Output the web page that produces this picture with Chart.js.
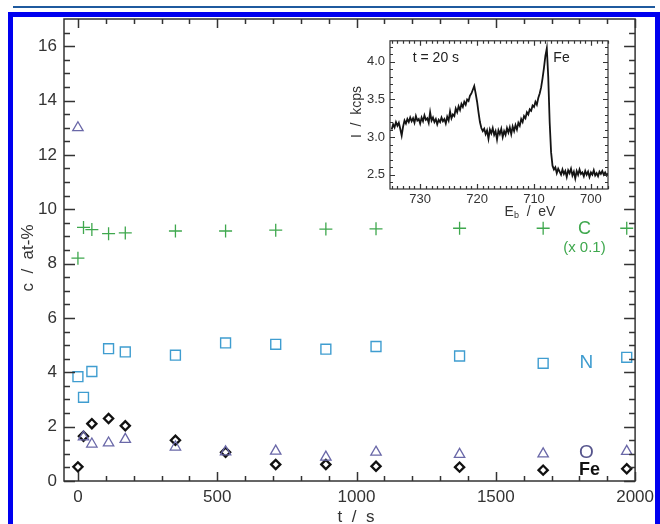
<!DOCTYPE html>
<html>
<head>
<meta charset="utf-8">
<script src="https://cdn.jsdelivr.net/npm/chart.js@4/dist/chart.umd.min.js"></script>
<style>
  html, body { margin: 0; padding: 0; width: 660px; height: 524px; overflow: hidden; background: #fff; }
  #rule  { position: absolute; left: 13px; top: 6px; width: 642px; height: 2px; background: #1f5a9e; }
  #panel { position: absolute; left: 8px; top: 12px; width: 652px; height: 520px; box-sizing: border-box;
           border: 5px solid #0000f0; border-bottom: none; background: #fff; }
  #main  { position: absolute; left: 0; top: 0; }
  #inset { position: absolute; left: 340px; top: 28px; }
</style>
</head>
<body>
<div id="rule"></div>
<div id="panel"></div>
<canvas id="main" width="660" height="524"></canvas>
<canvas id="inset" width="285" height="196"></canvas>
<script>
// Surface composition versus sputter time
const TIMES    = [0, 20, 50, 110, 170, 350, 530, 710, 890, 1070, 1370, 1670, 1970];       // t / s
const CARBON   = [82, 93.3, 92.5, 91, 91.3, 92, 92, 92.3, 92.7, 92.8, 93, 93, 93];         // at-%
const NITROGEN = [3.84, 3.08, 4.03, 4.87, 4.75, 4.63, 5.08, 5.03, 4.85, 4.95, 4.6, 4.33, 4.55];
const OXYGEN   = [13.0, 1.62, 1.36, 1.40, 1.53, 1.25, 1.07, 1.10, 0.88, 1.06, 0.98, 1.0, 1.09];
const IRON     = [0.52, 1.65, 2.11, 2.30, 2.03, 1.50, 1.06, 0.61, 0.61, 0.54, 0.51, 0.40, 0.45];
const CARBON_FACTOR = 0.1;   // carbon is plotted scaled by 0.1
const X_TICKS = [0, 500, 1000, 1500, 2000];
const Y_TICKS = [0, 2, 4, 6, 8, 10, 12, 14, 16];

// Fe 2p spectrum recorded at t = 20 s
const ENERGY = [735,734.75,734.5,734.25,734,733.75,733.5,733.25,733,732.75,732.5,732.25,732,731.75,731.5,731.25,
  731,730.75,730.5,730.25,730,729.75,729.5,729.25,729,728.75,728.5,728.25,728,727.75,727.5,727.25,727,726.75,
  726.5,726.25,726,725.75,725.5,725.25,725,724.75,724.5,724.25,724,723.75,723.5,723.25,723,722.75,722.5,722.25,
  722,721.75,721.5,721.25,721,720.75,720.5,720.25,720,719.75,719.5,719.25,719,718.75,718.5,718.25,718,717.75,
  717.5,717.25,717,716.75,716.5,716.25,716,715.75,715.5,715.25,715,714.75,714.5,714.25,714,713.75,713.5,713.25,
  713,712.75,712.5,712.25,712,711.75,711.5,711.25,711,710.75,710.5,710.25,710,709.75,709.5,709.25,709,708.75,
  708.5,708.25,708,707.75,707.5,707.25,707,706.75,706.5,706.25,706,705.75,705.5,705.25,705,704.75,704.5,704.25,
  704,703.75,703.5,703.25,703,702.75,702.5,702.25,702,701.75,701.5,701.25,701,700.75,700.5,700.25,700,699.75,
  699.5,699.25,699,698.75,698.5,698.25,698,697.75,697.5,697.25,697];
const INTENSITY = [3.10,3.17,3.13,3.20,3.15,3.19,3.11,3.02,3.14,3.22,3.18,3.24,3.20,3.26,3.21,3.25,
  3.19,3.28,3.22,3.24,3.18,3.26,3.21,3.29,3.23,3.25,3.19,3.33,3.22,3.26,3.20,3.24,3.17,3.23,
  3.20,3.26,3.21,3.24,3.18,3.27,3.22,3.34,3.25,3.30,3.28,3.38,3.33,3.41,3.36,3.44,3.40,3.47,
  3.43,3.50,3.48,3.55,3.58,3.63,3.68,3.58,3.47,3.33,3.20,3.12,3.08,3.11,3.04,3.09,2.98,3.10,
  3.05,3.12,3.03,3.08,2.97,3.09,3.04,3.11,3.00,3.08,3.03,3.12,3.06,3.13,3.04,3.14,3.08,3.16,
  3.10,3.19,3.15,3.24,3.20,3.28,3.25,3.33,3.30,3.37,3.35,3.42,3.40,3.47,3.43,3.52,3.58,3.66,
  3.78,3.92,4.08,4.18,3.80,3.20,2.80,2.62,2.57,2.60,2.52,2.58,2.54,2.50,2.57,2.51,2.55,2.47,
  2.56,2.52,2.58,2.49,2.54,2.45,2.55,2.50,2.57,2.51,2.53,2.48,2.55,2.50,2.54,2.47,2.53,2.50,
  2.56,2.49,2.52,2.48,2.54,2.51,2.55,2.50,2.53,2.49,2.52];
const E_TICKS = [730, 720, 710, 700];
const I_TICKS = [2.5, 3.0, 3.5, 4.0];

const FONT = "'Liberation Sans', Arial, Helvetica, sans-serif";
const AXIS = '#333333';
const GREEN = '#3fa84e', BLUE = '#3f9dd0', SLATE = '#6a68a8', BLACK = '#111111';

const pts = (xs, ys, k = 1) => xs.map((x, i) => ({ x, y: ys[i] * k }));

// Inward tick marks on all four sides plus a closed frame
const frameTicks = {
  id: 'frameTicks',
  afterDatasetsDraw(chart, args, o) {
    const { ctx, chartArea: a, scales: { x, y } } = chart;
    ctx.save();
    ctx.strokeStyle = o.color;
    ctx.lineWidth = o.width;
    ctx.beginPath();
    const each = (s, fn) => {
      for (let k = Math.ceil(s.from / s.minor - 1e-9); k * s.minor <= s.to + 1e-9; k++) {
        const v = k * s.minor;
        const r = v / s.major;
        fn(v, Math.abs(r - Math.round(r)) < 1e-6 ? s.majorLen : s.minorLen);
      }
    };
    each(o.x, (v, len) => {
      const px = Math.round(x.getPixelForValue(v)) + 0.5;
      ctx.moveTo(px, a.bottom); ctx.lineTo(px, a.bottom - len);
      ctx.moveTo(px, a.top);    ctx.lineTo(px, a.top + len);
    });
    each(o.y, (v, len) => {
      const py = Math.round(y.getPixelForValue(v)) + 0.5;
      ctx.moveTo(a.left, py);  ctx.lineTo(a.left + len, py);
      ctx.moveTo(a.right, py); ctx.lineTo(a.right - len, py);
    });
    ctx.stroke();
    ctx.strokeRect(a.left, a.top, a.right - a.left, a.bottom - a.top);
    ctx.restore();
  }
};

// Text labels placed in data coordinates or in canvas pixels
const notes = {
  id: 'notes',
  afterDraw(chart, args, o) {
    const { ctx, scales: { x, y } } = chart;
    (o.items || []).forEach(n => {
      const px = n.px !== undefined ? n.px : x.getPixelForValue(n.x);
      const py = n.py !== undefined ? n.py : y.getPixelForValue(n.y);
      ctx.save();
      ctx.translate(px, py);
      if (n.rotate) ctx.rotate(n.rotate);
      ctx.fillStyle = n.color || AXIS;
      ctx.textBaseline = n.baseline || 'middle';
      const parts = n.parts || [{ text: n.text, font: n.font }];
      let total = 0;
      parts.forEach(p => { ctx.font = p.font; total += ctx.measureText(p.text).width; });
      let cx = n.align === 'left' ? 0 : -total / 2;
      parts.forEach(p => {
        ctx.font = p.font;
        ctx.textAlign = 'left';
        ctx.fillText(p.text, cx, p.dy || 0);
        cx += ctx.measureText(p.text).width;
      });
      ctx.restore();
    });
  }
};

const tickFont = size => ({ family: FONT, size, lineHeight: 1.2 });

new Chart(document.getElementById('main'), {
  type: 'scatter',
  data: {
    datasets: [
      { label: 'C', data: pts(TIMES, CARBON, CARBON_FACTOR), pointStyle: 'cross', pointRadius: 6.5,
        borderColor: GREEN, backgroundColor: GREEN, pointBorderWidth: 1.3 },
      { label: 'N', data: pts(TIMES, NITROGEN), pointStyle: 'rect', pointRadius: 7,
        borderColor: BLUE, backgroundColor: 'rgba(0,0,0,0)', pointBorderWidth: 1.4 },
      { label: 'O', data: pts(TIMES, OXYGEN), pointStyle: 'triangle', pointRadius: 6,
        borderColor: SLATE, backgroundColor: 'rgba(0,0,0,0)', pointBorderWidth: 1.3 },
      { label: 'Fe', data: pts(TIMES, IRON), pointStyle: 'rectRot', pointRadius: 4.6,
        borderColor: BLACK, backgroundColor: 'rgba(0,0,0,0)', pointBorderWidth: 2.3 }
    ]
  },
  options: {
    responsive: false,
    animation: false,
    events: [],
    layout: { padding: { top: 19, right: 21, left: 0, bottom: 0 } },
    scales: {
      x: {
        type: 'linear', min: -50, max: 2000,
        afterBuildTicks: s => { s.ticks = X_TICKS.map(value => ({ value })); },
        afterFit: s => { s.height = 43; },
        ticks: { font: tickFont(17), color: AXIS, padding: 6, maxRotation: 0, callback: v => String(v) },
        grid: { display: false, drawTicks: false },
        border: { display: false }
      },
      y: {
        type: 'linear', min: 0, max: 17,
        afterBuildTicks: s => { s.ticks = Y_TICKS.map(value => ({ value })); },
        afterFit: s => { s.width = 64; },
        ticks: { font: tickFont(17), color: AXIS, padding: 7, callback: v => String(v) },
        grid: { display: false, drawTicks: false },
        border: { display: false }
      }
    },
    plugins: {
      legend: { display: false },
      tooltip: { enabled: false },
      frameTicks: {
        color: AXIS, width: 1.5,
        x: { from: 0, to: 2000, minor: 100, major: 500, majorLen: 9, minorLen: 5 },
        y: { from: 0, to: 16.5, minor: 0.5, major: 2, majorLen: 11, minorLen: 6 }
      },
      notes: {
        items: [
          { text: 'C', x: 1818, y: 9.27, font: `18px ${FONT}`, color: GREEN },
          { text: '(x 0.1)', x: 1818, y: 8.57, font: `15px ${FONT}`, color: GREEN },
          { text: 'N', x: 1825, y: 4.35, font: `19px ${FONT}`, color: BLUE },
          { text: 'O', x: 1825, y: 1.05, font: `19px ${FONT}`, color: '#55548c' },
          { text: 'Fe', x: 1836, y: 0.39, font: `bold 18px ${FONT}`, color: BLACK },
          { text: 't  /  s', px: 356, py: 522, baseline: 'alphabetic', font: `17px ${FONT}`, color: AXIS },
          { text: 'c  /  at-%', px: 28, py: 258, rotate: -Math.PI / 2, font: `17px ${FONT}`, color: AXIS }
        ]
      }
    }
  },
  plugins: [frameTicks, notes]
});

new Chart(document.getElementById('inset'), {
  type: 'scatter',
  data: {
    datasets: [{
      data: pts(ENERGY, INTENSITY), showLine: true, pointRadius: 0,
      borderColor: '#141414', borderWidth: 1.8, tension: 0
    }]
  },
  options: {
    responsive: false,
    animation: false,
    events: [],
    layout: { padding: { top: 7, right: 17, left: 0, bottom: 0 } },
    scales: {
      x: {
        type: 'linear', min: 697, max: 735.3, reverse: true,
        afterBuildTicks: s => { s.ticks = E_TICKS.map(value => ({ value })); },
        afterFit: s => { s.height = 35; },
        ticks: { font: tickFont(13), color: AXIS, padding: 3, maxRotation: 0, callback: v => String(v) },
        grid: { display: false, drawTicks: false },
        border: { display: false }
      },
      y: {
        type: 'linear', min: 2.31, max: 4.28,
        afterBuildTicks: s => { s.ticks = I_TICKS.map(value => ({ value })); },
        afterFit: s => { s.width = 50; },
        ticks: { font: tickFont(13), color: AXIS, padding: 5, callback: v => v.toFixed(1) },
        grid: { display: false, drawTicks: false },
        border: { display: false }
      }
    },
    plugins: {
      legend: { display: false },
      tooltip: { enabled: false },
      frameTicks: {
        color: AXIS, width: 1.2,
        x: { from: 697, to: 735, minor: 1, major: 10, majorLen: 5, minorLen: 3 },
        y: { from: 2.4, to: 4.2, minor: 0.1, major: 0.5, majorLen: 5, minorLen: 3 }
      },
      notes: {
        items: [
          { text: 't = 20 s', x: 731.3, y: 4.05, align: 'left', font: `14px ${FONT}`, color: '#222' },
          { text: 'Fe', x: 706.6, y: 4.05, align: 'left', font: `14px ${FONT}`, color: '#222' },
          { px: 190, py: 184, color: AXIS, parts: [
              { text: 'E', font: `14px ${FONT}` },
              { text: 'b', font: `9px ${FONT}`, dy: 4 },
              { text: '  /  eV', font: `14px ${FONT}` } ] },
          { text: 'I  /  kcps', px: 17, py: 84, rotate: -Math.PI / 2, font: `14px ${FONT}`, color: AXIS }
        ]
      }
    }
  },
  plugins: [frameTicks, notes]
});
</script>
</body>
</html>
